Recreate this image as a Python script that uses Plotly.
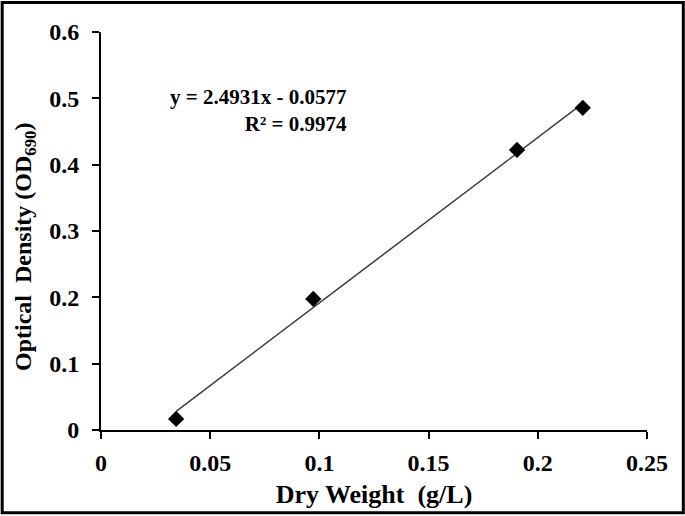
import plotly.graph_objects as go
import numpy as np

# measured points (dry weight g/L vs OD690)
dry_weight = [0.0344, 0.0972, 0.1905, 0.2206]
optical_density = [0.0166, 0.1976, 0.4222, 0.4857]

# Excel-style linear trendline as printed on the chart
slope = 2.4931
intercept = -0.0577
r_squared = 0.9974

x_ticks = [0, 0.05, 0.1, 0.15, 0.2, 0.25]
y_ticks = [0, 0.1, 0.2, 0.3, 0.4, 0.5, 0.6]

FONT = "Liberation Serif"

trend_x = np.array([min(dry_weight), max(dry_weight)])
trend_y = slope * trend_x + intercept

fig = go.Figure()
fig.add_trace(go.Scatter(x=trend_x, y=trend_y, mode="lines",
                         line=dict(color="#3a3a3a", width=1.5), showlegend=False))
fig.add_trace(go.Scatter(x=dry_weight, y=optical_density, mode="markers",
                         marker=dict(symbol="diamond", size=12.5, color="black"),
                         showlegend=False))

eq_text = "y = %.4fx - %.4f<br>R² = %.4f" % (slope, -intercept, r_squared)
fig.add_annotation(x=0.1135, y=0.481, xref="x", yref="y", text="<b>" + eq_text + "</b>",
                   showarrow=False, align="right", xanchor="right",
                   font=dict(family=FONT, size=21, color="black"))

# y title as an annotation so it can sit a bit below the plot centre like the original
fig.add_annotation(x=-0.139, y=0.46, xref="paper", yref="paper", textangle=-90,
                   text="<b>Optical  Density (OD<sub>690</sub>)</b>", showarrow=False,
                   xanchor="center", yanchor="middle",
                   font=dict(family=FONT, size=24, color="black"))

fig.update_xaxes(range=[0, 0.25], tickvals=x_ticks,
                 ticktext=["<b>%s</b>" % v for v in x_ticks],
                 showgrid=False, zeroline=False, showline=True, linecolor="black", linewidth=2,
                 ticks="outside", ticklen=7, tickwidth=2, tickcolor="black",
                 tickfont=dict(family=FONT, size=24, color="black"), ticklabelstandoff=3,
                 title=dict(text="<b>Dry Weight  (g/L)</b>", standoff=10,
                            font=dict(family=FONT, size=26, color="black")))
fig.update_yaxes(range=[0, 0.6], tickvals=y_ticks,
                 ticktext=["<b>%s</b>" % v for v in y_ticks],
                 showgrid=False, zeroline=False, showline=True, linecolor="black", linewidth=2,
                 ticks="outside", ticklen=7, tickwidth=2, tickcolor="black",
                 tickfont=dict(family=FONT, size=24, color="black"), ticklabelstandoff=8)

# frame around the whole picture
fig.add_shape(type="rect", xref="paper", yref="paper",
              x0=-0.181, x1=1.0665, y0=-0.208, y1=1.074,
              line=dict(color="black", width=3), layer="above")

fig.update_layout(width=685, height=516, margin=dict(l=101, r=38, t=32, b=86),
                  plot_bgcolor="white", paper_bgcolor="white",
                  font=dict(family=FONT, color="black"))

fig.write_html("out.html", config={"displayModeBar": False},
               post_script="document.body.style.margin='0px';")
